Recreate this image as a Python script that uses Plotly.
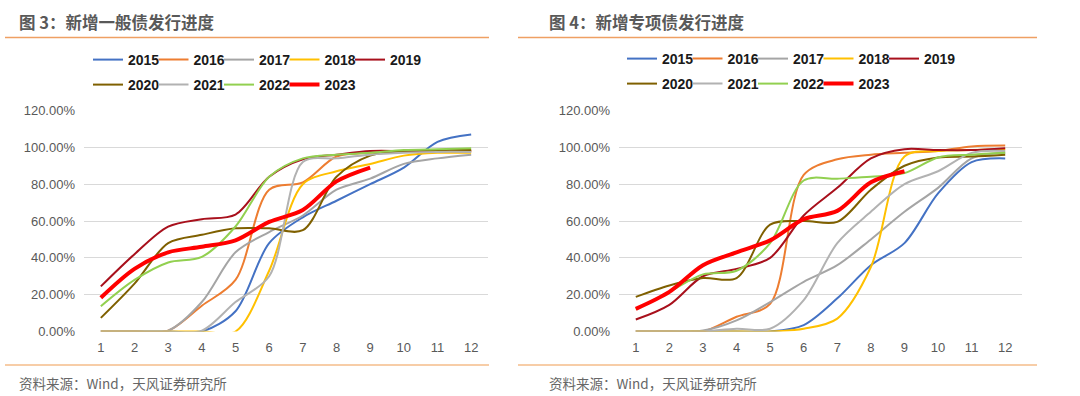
import plotly.graph_objects as go

months = list(range(1, 13))
years = ["2015", "2016", "2017", "2018", "2019", "2020", "2021", "2022", "2023"]
colors = ["#4472C4", "#ED7D31", "#A5A5A5", "#FFC000", "#A8101C",
          "#7F6000", "#B2B2B2", "#92D050", "#FF0000"]

# 新增一般债发行进度 (%)
general_2015 = [0, 0, 0, 0, 11, 48, 62, 71, 80, 89, 103, 107]
general_2016 = [0, 0, 0.5, 14, 28, 77, 81, 95, 97, 97.5, 98, 98]
general_2017 = [0, 0, 0.5, 16, 43, 54, 63, 77, 83, 91, 94, 96]
general_2018 = [0, 0, 0, 0, 0, 33, 80, 87, 91, 95.5, 97, 97]
general_2019 = [24.5, 42, 57, 61, 63.5, 84, 93.5, 96, 98, 98, 98, 98]
general_2020 = [7.4, 26, 48, 52.5, 56, 56, 55, 84, 95.5, 98, 98.5, 98.5]
general_2021 = [0, 0, 0, 0.5, 16, 30, 92, 94, 96, 97, 97.5, 97.5]
general_2022 = [13.7, 28, 37.5, 40.5, 57, 84, 94, 96, 97, 98.5, 99, 99.5]
general_2023 = [18.3, 34, 43, 46, 49.5, 59.5, 66, 81.5, 89]

# 新增专项债发行进度 (%)
special_2015 = [0, 0, 0, 0, 0, 3.5, 18, 36, 48, 75, 92, 94]
special_2016 = [0, 0, 0, 8, 15, 85, 93.5, 96, 97, 98, 100.5, 101]
special_2017 = [0, 0, 0.5, 6, 16, 27, 36, 50, 65, 78, 94, 97]
special_2018 = [0, 0, 0, 0, 0, 1.5, 7, 35, 95, 98, 98.5, 99]
special_2019 = [6.5, 14.5, 30, 34, 40, 63, 78, 94, 99, 98.5, 98.5, 99.5]
special_2020 = [18.8, 25, 29, 29, 58, 60, 59.5, 77, 90, 94.5, 95, 96]
special_2021 = [0, 0, 0, 1.5, 1.5, 17, 48, 65, 80, 87, 97, 98]
special_2022 = [12, 21.5, 31, 33, 48, 82, 83, 84, 86, 94.5, 96, 97]
special_2023 = [12.3, 21.5, 36, 43, 49.5, 61, 65.5, 81, 87]

general = [general_2015, general_2016, general_2017, general_2018, general_2019,
           general_2020, general_2021, general_2022, general_2023]
special = [special_2015, special_2016, special_2017, special_2018, special_2019,
           special_2020, special_2021, special_2022, special_2023]

y_ticks = [0, 20, 40, 60, 80, 100, 120]
y_ticktext = [f"{v:.2f}%" for v in y_ticks]

W, H = 1080, 396
STEP = 65.5
fig = go.Figure()

leg_font = dict(family="Liberation Sans, Arial, sans-serif", size=14, color="#1A1A1A")
legends = {}
panel_legend_origin = [(88, 60, 85), (622, 59, 84)]

for panel, (data, xa, ya) in enumerate([(general, "x", "y"), (special, "x2", "y2")]):
    x0, y1, y2 = panel_legend_origin[panel]
    for i, (yr, vals) in enumerate(zip(years, data)):
        k = 1 + panel * 9 + i
        lid = "legend" if k == 1 else f"legend{k}"
        col, row_y = (i, y1) if i < 5 else (i - 5, y2)
        legends[lid] = dict(orientation="h", x=(x0 + col * STEP) / W,
                            y=1 - row_y / H, xanchor="left", yanchor="middle",
                            font=leg_font, bgcolor="rgba(0,0,0,0)", borderwidth=0,
                            itemclick=False, itemdoubleclick=False)
        fig.add_trace(go.Scatter(
            x=months[:len(vals)], y=vals, name="<b>" + yr + "</b>", mode="lines",
            line=dict(color=colors[i], width=4 if yr == "2023" else 2,
                      shape="spline", smoothing=0.9),
            xaxis=xa, yaxis=ya, legend=lid,
            showlegend=True, hoverinfo="x+y+name"))

axis_font = dict(family="Liberation Sans, Arial, sans-serif", size=13, color="#595959")
ydom = [(H - 331.5) / H, (H - 110.5) / H]

def xaxis(dom, anchor):
    return dict(domain=dom, anchor=anchor, range=[0.5, 12.5], tickmode="array",
                tickvals=months, ticktext=[str(m) for m in months],
                showgrid=False, zeroline=False, showline=False, ticks="",
                ticklabelstandoff=6,
                tickfont=axis_font, automargin=False, fixedrange=True)

def yaxis(anchor):
    return dict(domain=ydom, anchor=anchor, range=[0, 120], tickmode="array",
                tickvals=y_ticks, ticktext=y_ticktext,
                showgrid=True, gridcolor="#D9D9D9", gridwidth=1.3,
                zeroline=False, showline=False, ticks="", ticklabelstandoff=8,
                tickfont=axis_font, automargin=False, fixedrange=True)

fig.update_layout(
    width=W, height=H, template="none",
    paper_bgcolor="white", plot_bgcolor="white",
    margin=dict(l=0, r=0, t=0, b=0),
    xaxis=xaxis([84 / W, 488 / W], "y"),
    yaxis=yaxis("x"),
    xaxis2=xaxis([619 / W, 1022 / W], "y2"),
    yaxis2=yaxis("x2"),
    **legends,
)

title_font = dict(family="Noto Sans CJK SC, sans-serif", size=16.5, color="#595959")
src_font = dict(family="Noto Sans CJK SC, sans-serif", size=13.5, color="#666666")
for xpx, t in [(17, "图 3：新增一般债发行进度"), (547, "图 4：新增专项债发行进度")]:
    fig.add_annotation(x=xpx / W, y=1 - 22 / H, xref="paper", yref="paper",
                       text="<b>" + t + "</b>", showarrow=False,
                       xanchor="left", yanchor="middle", font=title_font)
for xpx in [17, 547]:
    fig.add_annotation(x=xpx / W, y=1 - 383 / H, xref="paper", yref="paper",
                       text="资料来源：Wind，天风证券研究所", showarrow=False,
                       xanchor="left", yanchor="middle", font=src_font)

for x0, x1 in [(5, 489), (518, 1037)]:
    fig.add_shape(type="line", xref="paper", yref="paper",
                  x0=x0 / W, x1=x1 / W, y0=1 - 37.5 / H, y1=1 - 37.5 / H,
                  line=dict(color="#EFA063", width=1.5))
    fig.add_shape(type="line", xref="paper", yref="paper",
                  x0=x0 / W, x1=x1 / W, y0=1 - 365 / H, y1=1 - 365 / H,
                  line=dict(color="#F4BC8A", width=1.5))

fig.write_html("out.html",
               config={"displayModeBar": False},
               post_script="document.body.style.margin='0';"
                           "document.body.style.overflow='hidden';")
